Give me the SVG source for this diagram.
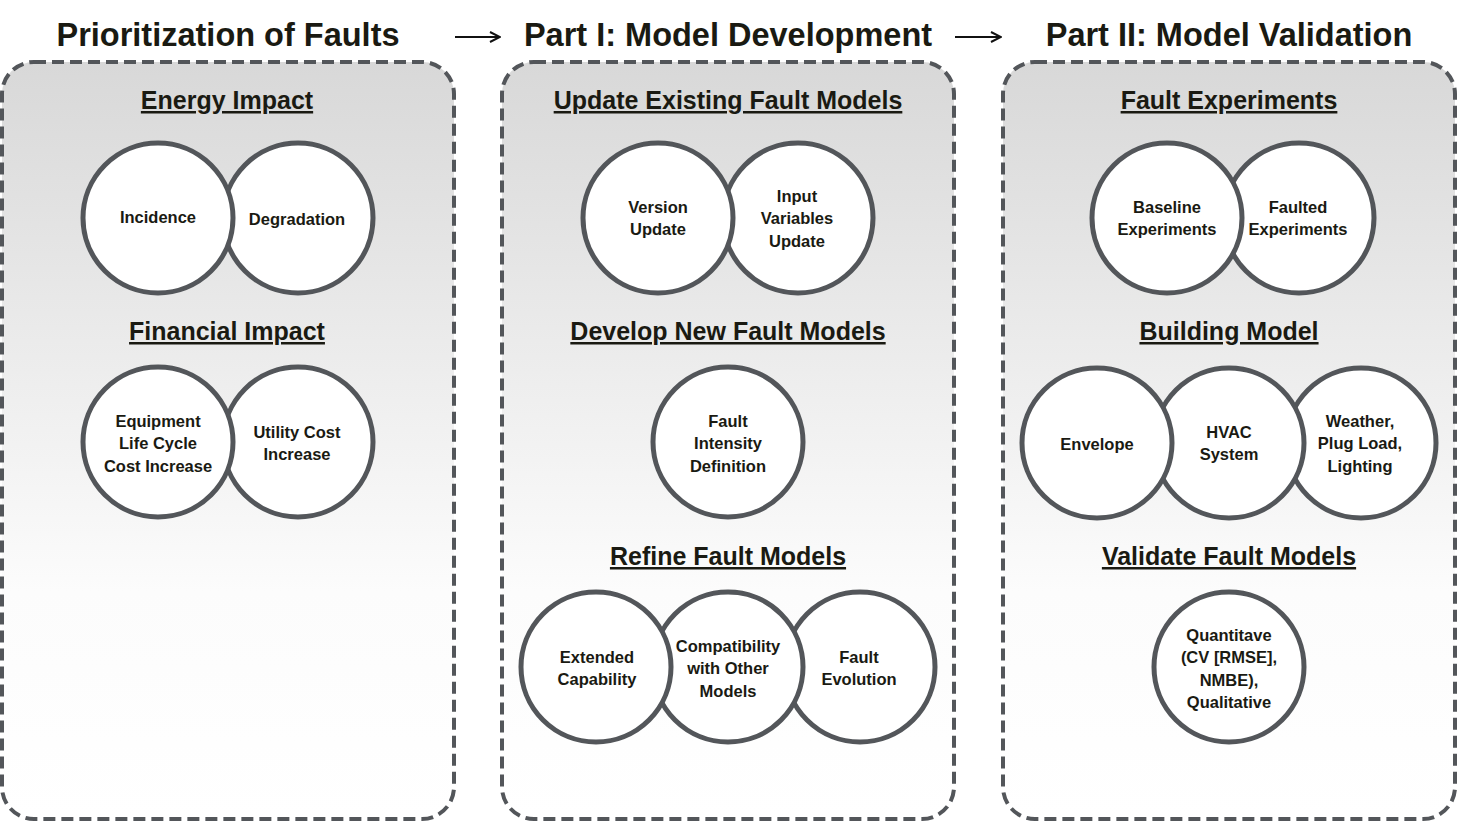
<svg xmlns="http://www.w3.org/2000/svg" width="1458" height="822" viewBox="0 0 1458 822">
<defs>
<linearGradient id="pg" x1="0" y1="0" x2="0" y2="1">
<stop offset="0" stop-color="#d8d8d8"/>
<stop offset="0.7" stop-color="#fcfcfc"/>
<stop offset="1" stop-color="#ffffff"/>
</linearGradient>
<marker id="ah" viewBox="0 0 12 12" refX="11" refY="6" markerWidth="12" markerHeight="12" markerUnits="userSpaceOnUse" orient="auto">
<path d="M1,1 L11,6 L1,11" fill="none" stroke="#111" stroke-width="2"/>
</marker>
<style>
.title{font-family:"Liberation Sans",Arial,sans-serif;font-weight:bold;font-size:32.5px;fill:#1a1a12;text-anchor:middle}
.hdr{font-family:"Liberation Sans",Arial,sans-serif;font-weight:bold;font-size:25px;fill:#1a1a12;text-anchor:middle;text-decoration:underline}
.lbl{font-family:"Liberation Sans",Arial,sans-serif;font-weight:bold;font-size:16.5px;fill:#1a1a12;text-anchor:middle}
.panel{fill:url(#pg);stroke:#53565a;stroke-width:4;stroke-dasharray:12 6}
.c{fill:#ffffff;stroke:#53565a;stroke-width:5}
.arr{stroke:#111;stroke-width:2.2;fill:none}
</style>
</defs>
<rect width="1458" height="822" fill="#ffffff"/>

<g id="panels">
<rect id="panel-prioritization" class="panel" x="2" y="62" width="452" height="757" rx="32"/>
<rect id="panel-development" class="panel" x="502" y="62" width="452" height="757" rx="32"/>
<rect id="panel-validation" class="panel" x="1003" y="62" width="452" height="757" rx="32"/>
</g>

<g id="titles">
<text class="title" x="228" y="46">Prioritization of Faults</text>
<text class="title" x="728" y="46">Part I: Model Development</text>
<text class="title" x="1229" y="46">Part II: Model Validation</text>
</g>

<g id="connectors">
<line class="arr" x1="455" y1="37" x2="500" y2="37" marker-end="url(#ah)"/>
<line class="arr" x1="955" y1="37" x2="1001" y2="37" marker-end="url(#ah)"/>
</g>

<g id="headers">
<text class="hdr" x="227" y="109">Energy Impact</text>
<text class="hdr" x="227" y="340">Financial Impact</text>
<text class="hdr" x="728" y="109">Update Existing Fault Models</text>
<text class="hdr" x="728" y="340">Develop New Fault Models</text>
<text class="hdr" x="728" y="565">Refine Fault Models</text>
<text class="hdr" x="1229" y="109">Fault Experiments</text>
<text class="hdr" x="1229" y="340">Building Model</text>
<text class="hdr" x="1229" y="565">Validate Fault Models</text>
</g>

<!-- Left panel -->
<g id="node-degradation"><circle class="c" cx="298" cy="218" r="75"/><text class="lbl" x="297" y="225">Degradation</text></g>
<g id="node-incidence"><circle class="c" cx="158" cy="218" r="75"/><text class="lbl" x="158" y="223">Incidence</text></g>
<g id="node-utility"><circle class="c" cx="298" cy="442" r="75"/><text class="lbl" x="297" y="438">Utility Cost</text><text class="lbl" x="297" y="460">Increase</text></g>
<g id="node-equipment"><circle class="c" cx="158" cy="442" r="75"/><text class="lbl" x="158" y="427">Equipment</text><text class="lbl" x="158" y="449">Life Cycle</text><text class="lbl" x="158" y="472">Cost Increase</text></g>

<!-- Middle panel -->
<g id="node-input"><circle class="c" cx="798" cy="218" r="75"/><text class="lbl" x="797" y="202">Input</text><text class="lbl" x="797" y="224">Variables</text><text class="lbl" x="797" y="247">Update</text></g>
<g id="node-version"><circle class="c" cx="658" cy="218" r="75"/><text class="lbl" x="658" y="213">Version</text><text class="lbl" x="658" y="235">Update</text></g>
<g id="node-intensity"><circle class="c" cx="728" cy="442" r="75"/><text class="lbl" x="728" y="427">Fault</text><text class="lbl" x="728" y="449">Intensity</text><text class="lbl" x="728" y="472">Definition</text></g>
<g id="node-evolution"><circle class="c" cx="860" cy="667" r="75"/><text class="lbl" x="859" y="663">Fault</text><text class="lbl" x="859" y="685">Evolution</text></g>
<g id="node-compat"><circle class="c" cx="728" cy="667" r="75"/><text class="lbl" x="728" y="652">Compatibility</text><text class="lbl" x="728" y="674">with Other</text><text class="lbl" x="728" y="697">Models</text></g>
<g id="node-extended"><circle class="c" cx="596" cy="667" r="75"/><text class="lbl" x="597" y="663">Extended</text><text class="lbl" x="597" y="685">Capability</text></g>

<!-- Right panel -->
<g id="node-faulted"><circle class="c" cx="1299" cy="218" r="75"/><text class="lbl" x="1298" y="213">Faulted</text><text class="lbl" x="1298" y="235">Experiments</text></g>
<g id="node-baseline"><circle class="c" cx="1167" cy="218" r="75"/><text class="lbl" x="1167" y="213">Baseline</text><text class="lbl" x="1167" y="235">Experiments</text></g>
<g id="node-weather"><circle class="c" cx="1361" cy="443" r="75"/><text class="lbl" x="1360" y="427">Weather,</text><text class="lbl" x="1360" y="449">Plug Load,</text><text class="lbl" x="1360" y="472">Lighting</text></g>
<g id="node-hvac"><circle class="c" cx="1229" cy="443" r="75"/><text class="lbl" x="1229" y="438">HVAC</text><text class="lbl" x="1229" y="460">System</text></g>
<g id="node-envelope"><circle class="c" cx="1097" cy="443" r="75"/><text class="lbl" x="1097" y="450">Envelope</text></g>
<g id="node-quant"><circle class="c" cx="1229" cy="667" r="75"/><text class="lbl" x="1229" y="641">Quantitave</text><text class="lbl" x="1229" y="663">(CV [RMSE],</text><text class="lbl" x="1229" y="686">NMBE),</text><text class="lbl" x="1229" y="708">Qualitative</text></g>
</svg>
